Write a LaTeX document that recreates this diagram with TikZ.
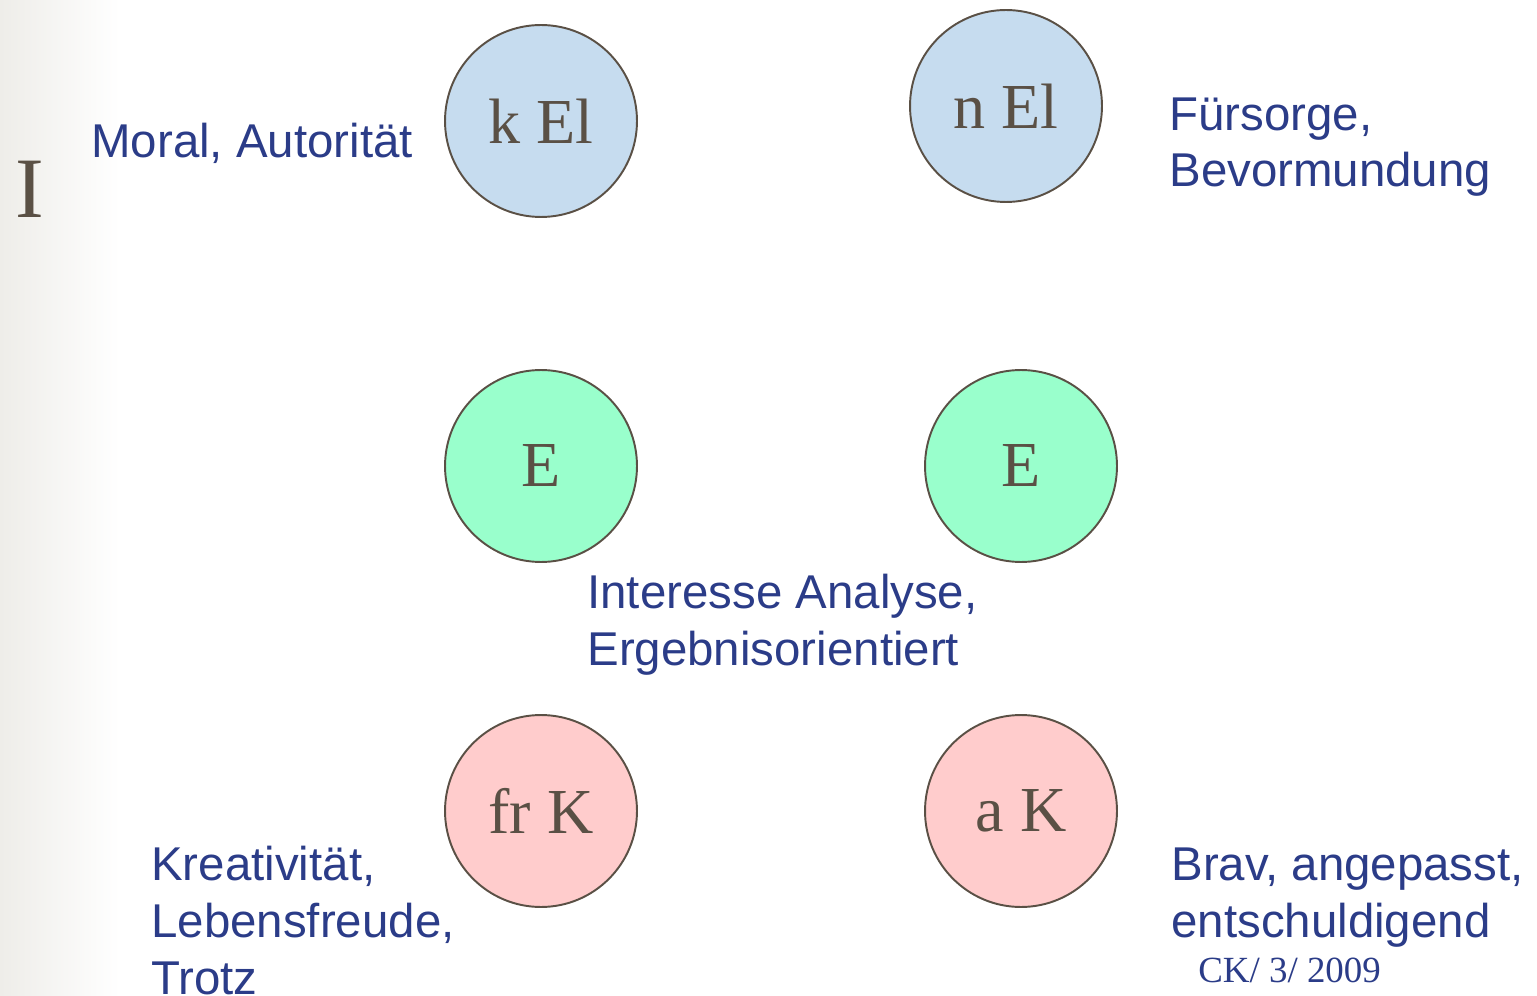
\documentclass[tikz,border=0pt]{standalone}
\usepackage{fontspec}
\setmainfont{Liberation Serif}
\setsansfont{Liberation Sans}
\definecolor{textblue}{HTML}{2B3C88}
\definecolor{ink}{HTML}{5A5045}
\definecolor{elblue}{HTML}{C6DCEF}
\definecolor{egreen}{HTML}{99FFCC}
\definecolor{kpink}{HTML}{FFCCCC}
\definecolor{edge}{HTML}{EEEDE9}
\begin{document}
\begin{tikzpicture}[x=0.02cm, y=-0.02cm,
    main/.style = {draw=ink, line width=1.1pt, circle, minimum size=3.84cm, inner sep=0pt,
        text=ink, font=\fontsize{36.5}{40}\selectfont},
    label/.style = {anchor=base west, align=left, inner sep=0pt, text=textblue,
        font=\sffamily\fontsize{27}{32.3}\selectfont}]
    \useasboundingbox (0,0) rectangle (1537,996);
    \shade[left color=edge, right color=white] (0,0) rectangle (120,996);
    % circles
    \node[main, fill=elblue] (kel) at (541,121) {k El};
    \node[main, fill=elblue] (nel) at (1006,106) {n El};
    \node[main, fill=egreen] (e1) at (541,466) {E};
    \node[main, fill=egreen] (e2) at (1021,466) {E};
    \node[main, fill=kpink] (frk) at (541,811) {fr K};
    \node[main, fill=kpink] (ak) at (1021,811) {a K};
    % labels (base = last line)
    \node[anchor=base west, inner sep=0pt, text=ink, font=\fontsize{49}{52}\selectfont] (i) at (15,218) {I};
    \node[label] (moral) at (91,158) {Moral, Autorität};
    \node[label] (fuer) at (1169,187) {Fürsorge,\\Bevormundung};
    \node[label] (inter) at (587,665) {Interesse Analyse,\\Ergebnisorientiert};
    \node[label] (krea) at (151,994) {Kreativität,\\Lebensfreude,\\Trotz};
    \node[label] (brav) at (1171,937) {Brav, angepasst,\\entschuldigend};
    \node[anchor=base west, inner sep=0pt, text=textblue, font=\fontsize{21}{24}\selectfont] (ck) at (1198,982) {CK/ 3/ 2009};
\end{tikzpicture}
\end{document}
